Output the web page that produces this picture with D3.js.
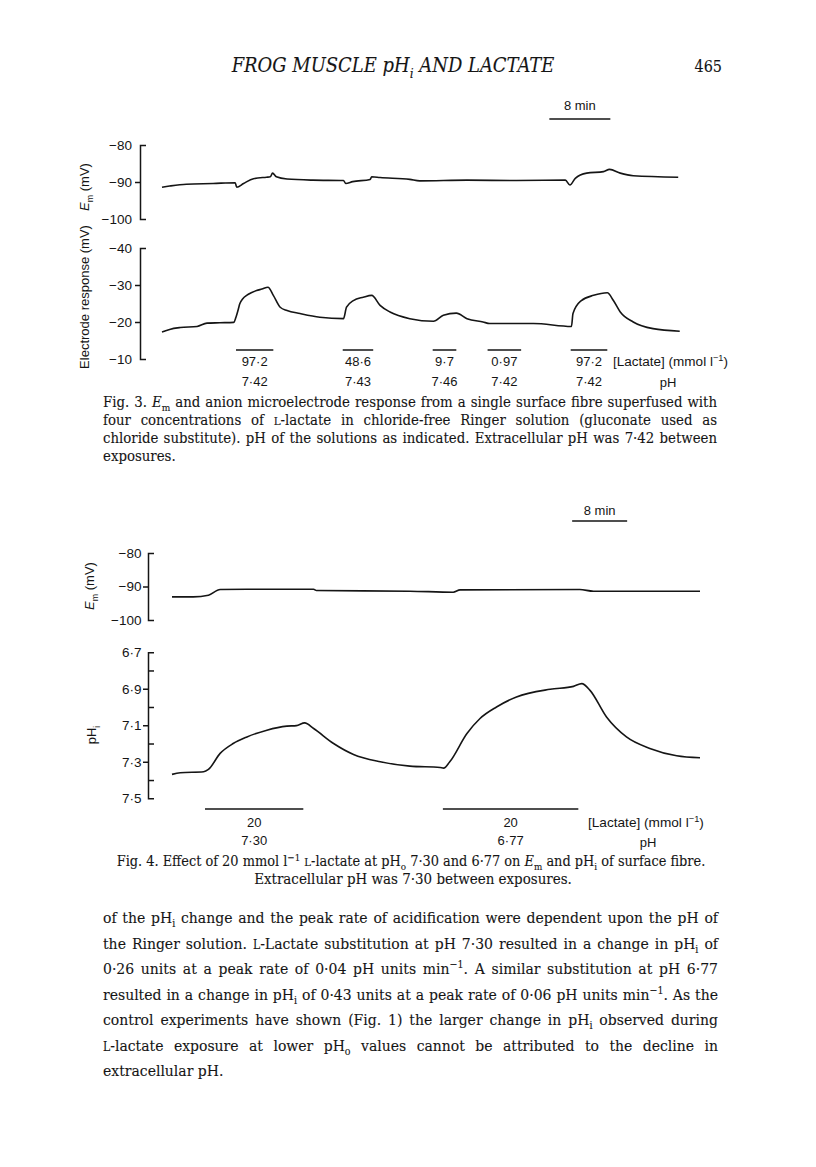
<!DOCTYPE html>
<html>
<head>
<meta charset="utf-8">
<script src="https://cdn.jsdelivr.net/npm/d3@7"></script>
<style>
  body { margin: 0; background: #fff; }
</style>
</head>
<body>
<div id="board"></div>
<script>
// ---- Fig. 3 data (time in min, potentials in mV) ----
var fig3EmTime   = [0, 1.0, 3.2, 6.7, 9.6, 9.8, 10.7, 12.0, 13.7, 14.2, 14.5, 15.0, 16.4, 19.8, 23.8, 24.1, 25.0, 27.3, 27.5, 28.6, 32.5, 33.8, 40.0, 46.5, 52.9, 53.5, 54.2, 55.7, 57.9, 58.7, 60.1, 61.8, 67.7];
var fig3EmValue  = [-91.4, -91.1, -90.6, -90.4, -90.2, -91.4, -90.4, -89.1, -88.7, -88.6, -87.6, -88.6, -89.2, -89.5, -89.6, -90.4, -89.9, -89.3, -88.6, -88.8, -89.3, -89.7, -89.5, -89.6, -89.5, -90.8, -89.0, -87.6, -87.2, -86.6, -87.6, -88.3, -88.7];
var fig3ElecTime = [0, 1.0, 2.4, 4.6, 5.9, 7.6, 9.4, 9.7, 10.0, 10.2, 10.6, 11.1, 11.7, 12.4, 13.1, 13.9, 14.6, 15.5, 16.4, 18.1, 20.7, 23.8, 24.2, 25.1, 26.4, 27.5, 28.6, 29.9, 32.5, 35.6, 36.9, 38.6, 40.0, 42.1, 43.0, 48.7, 53.7, 53.9, 55.0, 56.6, 58.4, 59.2, 60.1, 61.8, 64.4, 67.9];
var fig3ElecValue = [-17.3, -18.0, -18.5, -18.8, -19.7, -19.8, -19.9, -21.3, -23.4, -24.9, -26.3, -27.2, -27.9, -28.5, -28.9, -29.4, -27.2, -24.0, -23.1, -22.3, -21.3, -20.9, -24.0, -25.8, -26.7, -27.2, -24.5, -22.7, -20.9, -20.2, -21.8, -22.4, -20.9, -20.0, -19.6, -19.6, -18.8, -22.3, -25.8, -27.2, -27.9, -25.8, -22.7, -20.0, -18.2, -17.5];
var fig3BarStart = [9.7, 23.7, 35.5, 42.7, 53.6];
var fig3BarEnd   = [14.6, 27.7, 38.6, 47.1, 58.4];
var fig3Lactate  = ["97·2", "48·6", "9·7", "0·97", "97·2"];
var fig3PH       = ["7·42", "7·43", "7·46", "7·42", "7·42"];
var fig3EmTicks  = [-80, -90, -100];
var fig3ElecTicks = [-40, -30, -20, -10];

// ---- Fig. 4 data ----
var fig4EmTime  = [0, 3.1, 5.3, 7.0, 10.9, 20.6, 21.0, 34.6, 40.9, 41.9, 59.3, 61.3, 76.8];
var fig4EmValue = [-93.1, -93.1, -92.6, -90.9, -90.8, -90.8, -91.2, -91.4, -91.7, -91.0, -90.9, -91.4, -91.4];
var fig4PhTime  = [0, 1.2, 4.6, 5.3, 7.0, 8.9, 10.9, 13.8, 16.7, 18.1, 19.3, 20.6, 23.5, 26.4, 30.3, 34.6, 39.0, 39.5, 40.4, 42.9, 44.8, 47.2, 50.1, 55.0, 58.4, 59.6, 60.8, 63.2, 66.1, 69.5, 73.4, 76.8];
var fig4PhValue = [7.369, 7.360, 7.355, 7.342, 7.254, 7.200, 7.164, 7.127, 7.105, 7.102, 7.087, 7.118, 7.200, 7.260, 7.300, 7.324, 7.331, 7.335, 7.300, 7.145, 7.063, 7.000, 6.945, 6.903, 6.887, 6.872, 6.909, 7.055, 7.164, 7.227, 7.267, 7.278];
var fig4BarStart = [4.8, 39.4];
var fig4BarEnd   = [19.1, 59.1];
var fig4Lactate  = ["20", "20"];
var fig4PH       = ["7·30", "6·77"];
var fig4EmTicks  = [-80, -90, -100];
var fig4PhTicks  = [6.7, 6.9, 7.1, 7.3, 7.5];
var fig4PhMinor  = [6.8, 7.0, 7.2, 7.4];

// ---- page text ----
var headerTitle = "FROG MUSCLE pH_{i} AND LACTATE";
var pageNumber = "465";
var fig3Caption = [
  "Fig. 3. *E*_{m} and anion microelectrode response from a single surface fibre superfused with",
  "four concentrations of ~L~-lactate in chloride-free Ringer solution (gluconate used as",
  "chloride substitute). pH of the solutions as indicated. Extracellular pH was 7·42 between",
  "exposures."
];
var fig4Caption = [
  "Fig. 4. Effect of 20 mmol l^{−1} ~L~-lactate at pH_{o} 7·30 and 6·77 on *E*_{m} and pH_{i} of surface fibre.",
  "Extracellular pH was 7·30 between exposures."
];
var bodyLines = [
  "of the pH_{i} change and the peak rate of acidification were dependent upon the pH of",
  "the Ringer solution. ~L~-Lactate substitution at pH 7·30 resulted in a change in pH_{i} of",
  "0·26 units at a peak rate of 0·04 pH units min^{−1}. A similar substitution at pH 6·77",
  "resulted in a change in pH_{i} of 0·43 units at a peak rate of 0·06 pH units min^{−1}. As the",
  "control experiments have shown (Fig. 1) the larger change in pH_{i} observed during",
  "~L~-lactate exposure at lower pH_{o} values cannot be attributed to the decline in",
  "extracellular pH."
];

var SANS = "'Liberation Sans', Arial, sans-serif";
var SERIF = "'DejaVu Serif Condensed', 'DejaVu Serif', serif";
var INK = "#151515";

var svg = d3.select("#board").append("svg")
  .attr("width", 816).attr("height", 1167)
  .style("background", "#fff");

// tiny markup: _{sub} ^{sup} *italic* ~smallcap~
function rich(text, str, size) {
  var parts = str.split(/(_\{[^}]*\}|\^\{[^}]*\}|\*[^*]*\*|~[^~]*~)/).filter(function(s){ return s.length; });
  var cur = 0;
  parts.forEach(function(p){
    var t = text.append("tspan"), shift = 0, s = p;
    if (p.slice(0,2) == "_{") { s = p.slice(2,-1); shift = size*0.28; t.style("font-size", (size*0.68)+"px"); }
    else if (p.slice(0,2) == "^{") { s = p.slice(2,-1); shift = -size*0.38; t.style("font-size", (size*0.68)+"px"); }
    else if (p[0] == "*") { s = p.slice(1,-1); t.style("font-style", "italic"); }
    else if (p[0] == "~") { s = p.slice(1,-1); t.style("font-size", (size*0.78)+"px"); }
    if (shift - cur) t.attr("dy", shift - cur);
    cur = shift;
    t.text(s);
  });
  return text;
}

function addText(x, y, str, size, family, anchor) {
  var t = svg.append("text")
    .attr("x", x).attr("y", y)
    .attr("text-anchor", anchor || "start")
    .style("font-family", family).style("font-size", size + "px")
    .style("fill", INK);
  if (family == SERIF) t.style("stroke", INK).style("stroke-width", 0.1);
  return rich(t, str, size);
}

// draw a text, then redraw it at the size that gives the wanted width
function fitText(x, y, str, size, family, anchor, width) {
  var t = addText(x, y, str, size, family, anchor);
  var k = width / t.node().getComputedTextLength();
  t.remove();
  return addText(x, y, str, size * k, family, anchor);
}

// justified paragraph: one font size for all lines, extra room goes into word spacing
function paragraph(lines, x, y0, lead, width, size, family) {
  var k = 10;
  lines.forEach(function(s, i){
    if (i == lines.length - 1) return;
    var t = addText(x, 0, s, size, family);
    k = Math.min(k, width / t.node().getComputedTextLength());
    t.remove();
  });
  var fs = size * k * 0.985;
  lines.forEach(function(s, i){
    var t = addText(x, y0 + i * lead, s, fs, family);
    if (i < lines.length - 1) {
      var len = t.node().getComputedTextLength();
      var spaces = (t.text().match(/ /g) || []).length;
      if (spaces) t.style("word-spacing", ((width - len) / spaces) + "px");
    }
  });
}

function bracketAxis(x, scale, labels, minors, fmt, pad) {
  var ends = scale.domain();
  var g = svg.append("g").attr("transform", "translate(" + x + ",0)")
    .call(d3.axisLeft(scale).tickValues(labels).tickFormat(fmt)
      .tickSizeInner(5).tickSizeOuter(-6).tickPadding(pad));
  g.selectAll(".tick").filter(function(d){ return d == ends[0] || d == ends[1]; }).select("line").remove();
  g.selectAll("text").style("font-family", SANS).style("font-size", "13.5px").style("fill", INK);
  g.selectAll("path, line").style("stroke", INK).style("stroke-width", 1.5);
  if (minors) {
    var m = svg.append("g").attr("transform", "translate(" + x + ",0)")
      .call(d3.axisRight(scale).tickValues(minors).tickFormat("").tickSizeInner(6).tickSizeOuter(0));
    m.select(".domain").remove();
    m.selectAll("line").style("stroke", INK).style("stroke-width", 1.5);
  }
}

function trace(xs, ys, times, values) {
  var line = d3.line().x(function(d){ return xs(d[0]); }).y(function(d){ return ys(d[1]); })
    .curve(d3.curveMonotoneX);
  svg.append("path").datum(d3.zip(times, values)).attr("d", line)
    .style("fill", "none").style("stroke", INK).style("stroke-width", 1.6)
    .style("stroke-linejoin", "round");
}

function bars(xs, y, starts, ends, conc, ph, yConc, yPh) {
  starts.forEach(function(s, i){
    svg.append("line").attr("x1", xs(s)).attr("x2", xs(ends[i])).attr("y1", y).attr("y2", y)
      .style("stroke", INK).style("stroke-width", 1.5);
    var cx = (xs(s) + xs(ends[i])) / 2;
    addText(cx, yConc, conc[i], 13, SANS, "middle");
    addText(cx, yPh, ph[i], 13, SANS, "middle");
  });
}

function scaleBar(xs, t0, y, ty) {
  svg.append("line").attr("x1", xs(t0)).attr("x2", xs(t0 + 8)).attr("y1", y).attr("y2", y)
    .style("stroke", INK).style("stroke-width", 1.5);
  addText((xs(t0) + xs(t0 + 8)) / 2, ty, "8 min", 13, SANS, "middle");
}

function sideLabel(x, y, str) {
  var t = svg.append("text").attr("transform", "translate(" + x + "," + y + ") rotate(-90)")
    .attr("text-anchor", "middle").style("font-family", SANS)
    .style("font-size", "13px").style("fill", INK);
  rich(t, str, 13);
}

var mvFmt = function(d){ return "−" + Math.abs(d); };
var phFmt = function(d){ return d.toFixed(1).replace(".", "·"); };

// ---- header ----
fitText(393, 72, headerTitle, 16, SERIF, "middle", 323).style("font-style", "italic");
addText(722, 72, pageNumber, 16, SERIF, "end");

// ---- Fig. 3 ----
var x3 = d3.scaleLinear().domain([0, 68]).range([162, 680.5]);
var yEm3 = d3.scaleLinear().domain([-100, -80]).range([219, 145]);
var yEl3 = d3.scaleLinear().domain([-10, -40]).range([359, 248]);

scaleBar(x3, 50.8, 119, 110);
bracketAxis(140, yEm3, fig3EmTicks, null, mvFmt, 3);
bracketAxis(140, yEl3, fig3ElecTicks, null, mvFmt, 3);
trace(x3, yEm3, fig3EmTime, fig3EmValue);
trace(x3, yEl3, fig3ElecTime, fig3ElecValue);
bars(x3, 350, fig3BarStart, fig3BarEnd, fig3Lactate, fig3PH, 366, 386);
fitText(613, 366, "[Lactate] (mmol l^{−1})", 13, SANS, "start", 115);
addText(668, 387, "pH", 13, SANS, "middle");
sideLabel(89, 297, "Electrode response (mV)");
sideLabel(89, 187, "*E*_{m} (mV)");

paragraph(fig3Caption, 103, 407, 18, 614, 14, SERIF);

// ---- Fig. 4 ----
var x4 = d3.scaleLinear().domain([0, 77]).range([172, 701.4]);
var yEm4 = d3.scaleLinear().domain([-100, -80]).range([620, 553]);
var yPh4 = d3.scaleLinear().domain([7.5, 6.7]).range([798.3, 652.2]);

scaleBar(x4, 58.2, 521, 515);
bracketAxis(148, yEm4, fig4EmTicks, null, mvFmt, 1.5);
bracketAxis(148, yPh4, fig4PhTicks, fig4PhMinor, phFmt, 1.5);
trace(x4, yEm4, fig4EmTime, fig4EmValue);
trace(x4, yPh4, fig4PhTime, fig4PhValue);
bars(x4, 809, fig4BarStart, fig4BarEnd, fig4Lactate, fig4PH, 827, 845);
fitText(588, 827, "[Lactate] (mmol l^{−1})", 13, SANS, "start", 116);
addText(648, 847, "pH", 13, SANS, "middle");
sideLabel(94, 586, "*E*_{m} (mV)");
sideLabel(96, 735, "pH_{i}");

fitText(411, 866, fig4Caption[0], 13, SERIF, "middle", 589);
fitText(413, 884, fig4Caption[1], 13, SERIF, "middle", 318);

// ---- body text ----
paragraph(bodyLines, 103, 923, 25.5, 615, 16, SERIF);
</script>
</body>
</html>
